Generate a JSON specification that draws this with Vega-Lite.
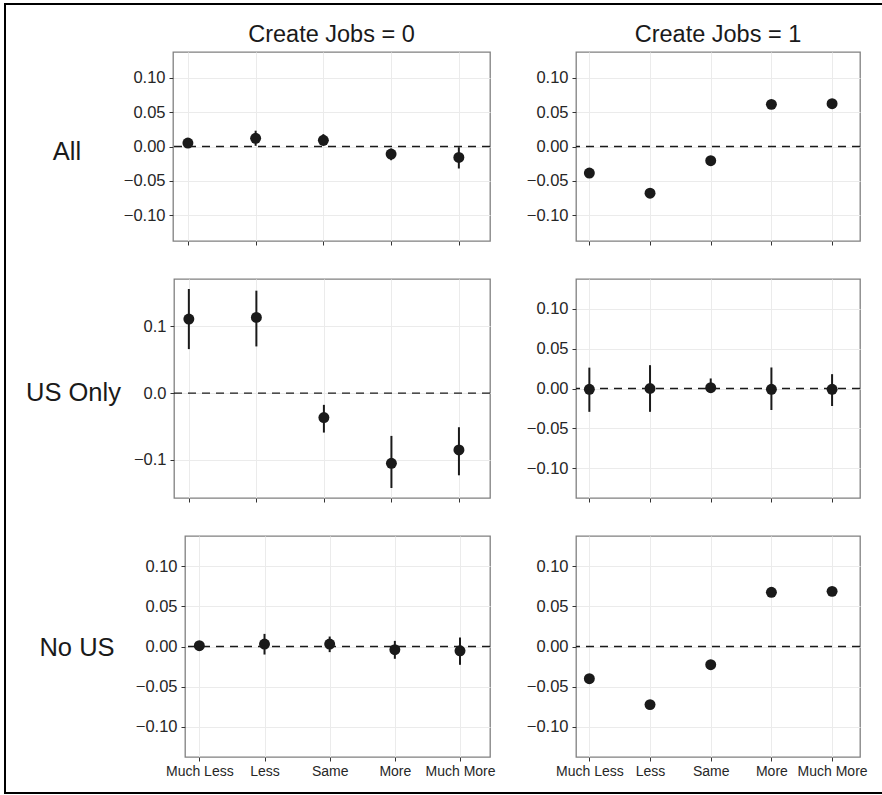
{
  "$schema": "https://vega.github.io/schema/vega-lite/v6.json",
  "padding": {"left": 4, "top": 3, "right": 0, "bottom": 0},
  "background": "white",
  "datasets": {
    "d": [
      {"group": "All", "jobs": 0, "level": 1, "est": 0.005, "lo": 0.001, "hi": 0.009},
      {"group": "All", "jobs": 0, "level": 2, "est": 0.012, "lo": 0.001, "hi": 0.023},
      {"group": "All", "jobs": 0, "level": 3, "est": 0.009, "lo": 0.001, "hi": 0.018},
      {"group": "All", "jobs": 0, "level": 4, "est": -0.011, "lo": -0.020, "hi": -0.003},
      {"group": "All", "jobs": 0, "level": 5, "est": -0.016, "lo": -0.032, "hi": -0.001},
      {"group": "All", "jobs": 1, "level": 1, "est": -0.0387, "lo": -0.043, "hi": -0.034},
      {"group": "All", "jobs": 1, "level": 2, "est": -0.068, "lo": -0.072, "hi": -0.064},
      {"group": "All", "jobs": 1, "level": 3, "est": -0.0206, "lo": -0.025, "hi": -0.016},
      {"group": "All", "jobs": 1, "level": 4, "est": 0.0613, "lo": 0.057, "hi": 0.066},
      {"group": "All", "jobs": 1, "level": 5, "est": 0.0623, "lo": 0.058, "hi": 0.067},
      {"group": "US Only", "jobs": 0, "level": 1, "est": 0.111, "lo": 0.066, "hi": 0.156},
      {"group": "US Only", "jobs": 0, "level": 2, "est": 0.1135, "lo": 0.070, "hi": 0.1535},
      {"group": "US Only", "jobs": 0, "level": 3, "est": -0.0365, "lo": -0.059, "hi": -0.0175},
      {"group": "US Only", "jobs": 0, "level": 4, "est": -0.105, "lo": -0.142, "hi": -0.064},
      {"group": "US Only", "jobs": 0, "level": 5, "est": -0.085, "lo": -0.123, "hi": -0.051},
      {"group": "US Only", "jobs": 1, "level": 1, "est": -0.001, "lo": -0.0293, "hi": 0.0262},
      {"group": "US Only", "jobs": 1, "level": 2, "est": 0.0, "lo": -0.0293, "hi": 0.0293},
      {"group": "US Only", "jobs": 1, "level": 3, "est": 0.001, "lo": -0.0055, "hi": 0.0126},
      {"group": "US Only", "jobs": 1, "level": 4, "est": -0.001, "lo": -0.027, "hi": 0.0264},
      {"group": "US Only", "jobs": 1, "level": 5, "est": -0.001, "lo": -0.022, "hi": 0.018},
      {"group": "No US", "jobs": 0, "level": 1, "est": 0.001, "lo": -0.002, "hi": 0.004},
      {"group": "No US", "jobs": 0, "level": 2, "est": 0.003, "lo": -0.010, "hi": 0.0157},
      {"group": "No US", "jobs": 0, "level": 3, "est": 0.003, "lo": -0.007, "hi": 0.0124},
      {"group": "No US", "jobs": 0, "level": 4, "est": -0.004, "lo": -0.0153, "hi": 0.007},
      {"group": "No US", "jobs": 0, "level": 5, "est": -0.0054, "lo": -0.0228, "hi": 0.0112},
      {"group": "No US", "jobs": 1, "level": 1, "est": -0.0401, "lo": -0.044, "hi": -0.036},
      {"group": "No US", "jobs": 1, "level": 2, "est": -0.0723, "lo": -0.076, "hi": -0.068},
      {"group": "No US", "jobs": 1, "level": 3, "est": -0.0227, "lo": -0.027, "hi": -0.019},
      {"group": "No US", "jobs": 1, "level": 4, "est": 0.0674, "lo": 0.063, "hi": 0.072},
      {"group": "No US", "jobs": 1, "level": 5, "est": 0.0686, "lo": 0.064, "hi": 0.073}
    ]
  },
  "config": {
    "font": "Liberation Sans",
    "view": {"stroke": "#808080", "strokeWidth": 1.3},
    "axis": {
      "domain": false, "grid": true, "ticks": true, "tickSize": 4, "tickColor": "#333333", "tickWidth": 1,
      "labelPadding": 3, "labelFont": "Liberation Sans", "labelColor": "#262626",
      "labelOverlap": false, "labelFlush": false, "gridWidth": 1, "gridColor": "#ebebeb"
    },
    "axisY": {"labelFontSize": 16.5, "labelPadding": 4},
    "axisX": {"labelFontSize": 14},
    "title": {"font": "Liberation Sans", "fontSize": 23.5, "fontWeight": "normal", "color": "#1a1a1a", "baseline": "alphabetic", "offset": 6, "anchor": "middle", "frame": "group"}
  },
  "bounds": "flush",
  "spacing": 789,
  "vconcat": [
    {
      "bounds": "flush",
      "spacing": 0,
      "hconcat": [
        {"width": 2, "height": 789, "view": {"fill": "black", "stroke": null}, "data": {"values": []}, "mark": "point", "encoding": {}},
        {
          "spacing": 16,
          "vconcat": [
            {"width": 876, "height": 2, "view": {"fill": "black", "stroke": null}, "data": {"values": []}, "mark": "point", "encoding": {}},
            {
              "spacing": 31,
              "vconcat": [
                {
                  "bounds": "flush", "spacing": 86,
                  "hconcat": [
                    {"width": 81, "height": 189, "view": {"stroke": null}, "data": {"name": "d"},
                     "transform": [{"filter": "datum.group == 'All' && datum.jobs == 0 && datum.level == 1"}],
                     "mark": {"type": "text", "fontSize": 25.5, "font": "Liberation Sans", "color": "#1a1a1a", "baseline": "middle", "align": "center", "dx": 20.5, "dy": 5},
                     "encoding": {"text": {"field": "group"}}},
                    {
                      "width": 317, "height": 189,
                      "title": "Create Jobs = 0",
                      "data": {"name": "d"},
                      "transform": [{"filter": "datum.group == 'All' && datum.jobs == 0"}],
                      "layer": [
                        {"mark": {"type": "rule", "color": "#1a1a1a", "strokeWidth": 2},
                         "encoding": {
                           "x": {"field": "level", "type": "quantitative", "title": null, "scale": {"domain": [0.78, 5.46], "nice": false, "zero": false},
                             "axis": {"title": null, "values": [1, 1.5, 2, 2.5, 3, 3.5, 4, 4.5, 5], "labels": false,
                               "gridColor": {"condition": {"test": "datum.value % 1 == 0", "value": "#ebebeb"}, "value": "#f6f6f6"},
                               "tickOpacity": {"condition": {"test": "datum.value % 1 == 0", "value": 1}, "value": 0}}},
                           "y": {"field": "lo", "type": "quantitative", "title": null, "scale": {"domain": [-0.1375, 0.1375], "nice": false, "zero": false},
                             "axis": {"title": null, "values": [-0.1, -0.05, 0, 0.05, 0.1], "format": ".2f"}},
                           "y2": {"field": "hi"}}},
                        {"mark": {"type": "point", "filled": true, "opacity": 1, "size": 120, "color": "#1a1a1a"},
                         "encoding": {"x": {"field": "level", "type": "quantitative"}, "y": {"field": "est", "type": "quantitative"}}},
                        {"transform": [{"filter": "datum.level == 1"}],
                         "mark": {"type": "rule", "strokeDash": [8, 6], "color": "#1a1a1a", "strokeWidth": 1.4},
                         "encoding": {"y": {"datum": 0, "type": "quantitative"}}}
                      ]
                    },
                    {
                      "width": 284, "height": 189,
                      "title": "Create Jobs = 1",
                      "data": {"name": "d"},
                      "transform": [{"filter": "datum.group == 'All' && datum.jobs == 1"}],
                      "layer": [
                        {"mark": {"type": "rule", "color": "#1a1a1a", "strokeWidth": 2},
                         "encoding": {
                           "x": {"field": "level", "type": "quantitative", "title": null, "scale": {"domain": [0.78, 5.46], "nice": false, "zero": false},
                             "axis": {"title": null, "values": [1, 1.5, 2, 2.5, 3, 3.5, 4, 4.5, 5], "labels": false,
                               "gridColor": {"condition": {"test": "datum.value % 1 == 0", "value": "#ebebeb"}, "value": "#f6f6f6"},
                               "tickOpacity": {"condition": {"test": "datum.value % 1 == 0", "value": 1}, "value": 0}}},
                           "y": {"field": "lo", "type": "quantitative", "title": null, "scale": {"domain": [-0.1375, 0.1375], "nice": false, "zero": false},
                             "axis": {"title": null, "values": [-0.1, -0.05, 0, 0.05, 0.1], "format": ".2f"}},
                           "y2": {"field": "hi"}}},
                        {"mark": {"type": "point", "filled": true, "opacity": 1, "size": 120, "color": "#1a1a1a"},
                         "encoding": {"x": {"field": "level", "type": "quantitative"}, "y": {"field": "est", "type": "quantitative"}}},
                        {"transform": [{"filter": "datum.level == 1"}],
                         "mark": {"type": "rule", "strokeDash": [8, 6], "color": "#1a1a1a", "strokeWidth": 1.4},
                         "encoding": {"y": {"datum": 0, "type": "quantitative"}}}
                      ]
                    }
                  ]
                },
                {
                  "bounds": "flush", "spacing": 86,
                  "hconcat": [
                    {"width": 82, "height": 219, "view": {"stroke": null}, "data": {"name": "d"},
                     "transform": [{"filter": "datum.group == 'US Only' && datum.jobs == 0 && datum.level == 1"}],
                     "mark": {"type": "text", "fontSize": 25.5, "font": "Liberation Sans", "color": "#1a1a1a", "baseline": "middle", "align": "center", "dx": 26.5, "dy": 4},
                     "encoding": {"text": {"field": "group"}}},
                    {
                      "width": 316, "height": 219,
                      "data": {"name": "d"},
                      "transform": [{"filter": "datum.group == 'US Only' && datum.jobs == 0"}],
                      "layer": [
                        {"mark": {"type": "rule", "color": "#1a1a1a", "strokeWidth": 2},
                         "encoding": {
                           "x": {"field": "level", "type": "quantitative", "title": null, "scale": {"domain": [0.78, 5.46], "nice": false, "zero": false},
                             "axis": {"title": null, "values": [1, 1.5, 2, 2.5, 3, 3.5, 4, 4.5, 5], "labels": false,
                               "gridColor": {"condition": {"test": "datum.value % 1 == 0", "value": "#ebebeb"}, "value": "#f6f6f6"},
                               "tickOpacity": {"condition": {"test": "datum.value % 1 == 0", "value": 1}, "value": 0}}},
                           "y": {"field": "lo", "type": "quantitative", "title": null, "scale": {"domain": [-0.157, 0.171], "nice": false, "zero": false},
                             "axis": {"title": null, "values": [-0.1, 0, 0.1], "format": ".1f"}},
                           "y2": {"field": "hi"}}},
                        {"mark": {"type": "point", "filled": true, "opacity": 1, "size": 120, "color": "#1a1a1a"},
                         "encoding": {"x": {"field": "level", "type": "quantitative"}, "y": {"field": "est", "type": "quantitative"}}},
                        {"transform": [{"filter": "datum.level == 1"}],
                         "mark": {"type": "rule", "strokeDash": [8, 6], "color": "#1a1a1a", "strokeWidth": 1.4},
                         "encoding": {"y": {"datum": 0, "type": "quantitative"}}}
                      ]
                    },
                    {
                      "width": 284, "height": 219,
                      "data": {"name": "d"},
                      "transform": [{"filter": "datum.group == 'US Only' && datum.jobs == 1"}],
                      "layer": [
                        {"mark": {"type": "rule", "color": "#1a1a1a", "strokeWidth": 2},
                         "encoding": {
                           "x": {"field": "level", "type": "quantitative", "title": null, "scale": {"domain": [0.78, 5.46], "nice": false, "zero": false},
                             "axis": {"title": null, "values": [1, 1.5, 2, 2.5, 3, 3.5, 4, 4.5, 5], "labels": false,
                               "gridColor": {"condition": {"test": "datum.value % 1 == 0", "value": "#ebebeb"}, "value": "#f6f6f6"},
                               "tickOpacity": {"condition": {"test": "datum.value % 1 == 0", "value": 1}, "value": 0}}},
                           "y": {"field": "lo", "type": "quantitative", "title": null, "scale": {"domain": [-0.1375, 0.1375], "nice": false, "zero": false},
                             "axis": {"title": null, "values": [-0.1, -0.05, 0, 0.05, 0.1], "format": ".2f"}},
                           "y2": {"field": "hi"}}},
                        {"mark": {"type": "point", "filled": true, "opacity": 1, "size": 120, "color": "#1a1a1a"},
                         "encoding": {"x": {"field": "level", "type": "quantitative"}, "y": {"field": "est", "type": "quantitative"}}},
                        {"transform": [{"filter": "datum.level == 1"}],
                         "mark": {"type": "rule", "strokeDash": [8, 6], "color": "#1a1a1a", "strokeWidth": 1.4},
                         "encoding": {"y": {"datum": 0, "type": "quantitative"}}}
                      ]
                    }
                  ]
                },
                {
                  "bounds": "flush", "spacing": 86,
                  "hconcat": [
                    {"width": 93, "height": 221, "view": {"stroke": null}, "data": {"name": "d"},
                     "transform": [{"filter": "datum.group == 'No US' && datum.jobs == 0 && datum.level == 1"}],
                     "mark": {"type": "text", "fontSize": 25.5, "font": "Liberation Sans", "color": "#1a1a1a", "baseline": "middle", "align": "center", "dx": 24.5, "dy": 1.5},
                     "encoding": {"text": {"field": "group"}}},
                    {
                      "width": 305, "height": 221,
                      "data": {"name": "d"},
                      "transform": [{"filter": "datum.group == 'No US' && datum.jobs == 0"}],
                      "layer": [
                        {"mark": {"type": "rule", "color": "#1a1a1a", "strokeWidth": 2},
                         "encoding": {
                           "x": {"field": "level", "type": "quantitative", "title": null, "scale": {"domain": [0.78, 5.46], "nice": false, "zero": false},
                             "axis": {"title": null, "values": [1, 1.5, 2, 2.5, 3, 3.5, 4, 4.5, 5],
                               "labelExpr": "datum.value == 1 ? 'Much Less' : datum.value == 2 ? 'Less' : datum.value == 3 ? 'Same' : datum.value == 4 ? 'More' : datum.value == 5 ? 'Much More' : ''",
                               "gridColor": {"condition": {"test": "datum.value % 1 == 0", "value": "#ebebeb"}, "value": "#f6f6f6"},
                               "tickOpacity": {"condition": {"test": "datum.value % 1 == 0", "value": 1}, "value": 0}}},
                           "y": {"field": "lo", "type": "quantitative", "title": null, "scale": {"domain": [-0.1375, 0.1375], "nice": false, "zero": false},
                             "axis": {"title": null, "values": [-0.1, -0.05, 0, 0.05, 0.1], "format": ".2f"}},
                           "y2": {"field": "hi"}}},
                        {"mark": {"type": "point", "filled": true, "opacity": 1, "size": 120, "color": "#1a1a1a"},
                         "encoding": {"x": {"field": "level", "type": "quantitative"}, "y": {"field": "est", "type": "quantitative"}}},
                        {"transform": [{"filter": "datum.level == 1"}],
                         "mark": {"type": "rule", "strokeDash": [8, 6], "color": "#1a1a1a", "strokeWidth": 1.4},
                         "encoding": {"y": {"datum": 0, "type": "quantitative"}}}
                      ]
                    },
                    {
                      "width": 284, "height": 221,
                      "data": {"name": "d"},
                      "transform": [{"filter": "datum.group == 'No US' && datum.jobs == 1"}],
                      "layer": [
                        {"mark": {"type": "rule", "color": "#1a1a1a", "strokeWidth": 2},
                         "encoding": {
                           "x": {"field": "level", "type": "quantitative", "title": null, "scale": {"domain": [0.78, 5.46], "nice": false, "zero": false},
                             "axis": {"title": null, "values": [1, 1.5, 2, 2.5, 3, 3.5, 4, 4.5, 5],
                               "labelExpr": "datum.value == 1 ? 'Much Less' : datum.value == 2 ? 'Less' : datum.value == 3 ? 'Same' : datum.value == 4 ? 'More' : datum.value == 5 ? 'Much More' : ''",
                               "gridColor": {"condition": {"test": "datum.value % 1 == 0", "value": "#ebebeb"}, "value": "#f6f6f6"},
                               "tickOpacity": {"condition": {"test": "datum.value % 1 == 0", "value": 1}, "value": 0}}},
                           "y": {"field": "lo", "type": "quantitative", "title": null, "scale": {"domain": [-0.1375, 0.1375], "nice": false, "zero": false},
                             "axis": {"title": null, "values": [-0.1, -0.05, 0, 0.05, 0.1], "format": ".2f"}},
                           "y2": {"field": "hi"}}},
                        {"mark": {"type": "point", "filled": true, "opacity": 1, "size": 120, "color": "#1a1a1a"},
                         "encoding": {"x": {"field": "level", "type": "quantitative"}, "y": {"field": "est", "type": "quantitative"}}},
                        {"transform": [{"filter": "datum.level == 1"}],
                         "mark": {"type": "rule", "strokeDash": [8, 6], "color": "#1a1a1a", "strokeWidth": 1.4},
                         "encoding": {"y": {"datum": 0, "type": "quantitative"}}}
                      ]
                    }
                  ]
                }
              ]
            }
          ]
        }
      ]
    },
    {"width": 878, "height": 2, "view": {"fill": "black", "stroke": null}, "data": {"values": []}, "mark": "point", "encoding": {}}
  ]
}
